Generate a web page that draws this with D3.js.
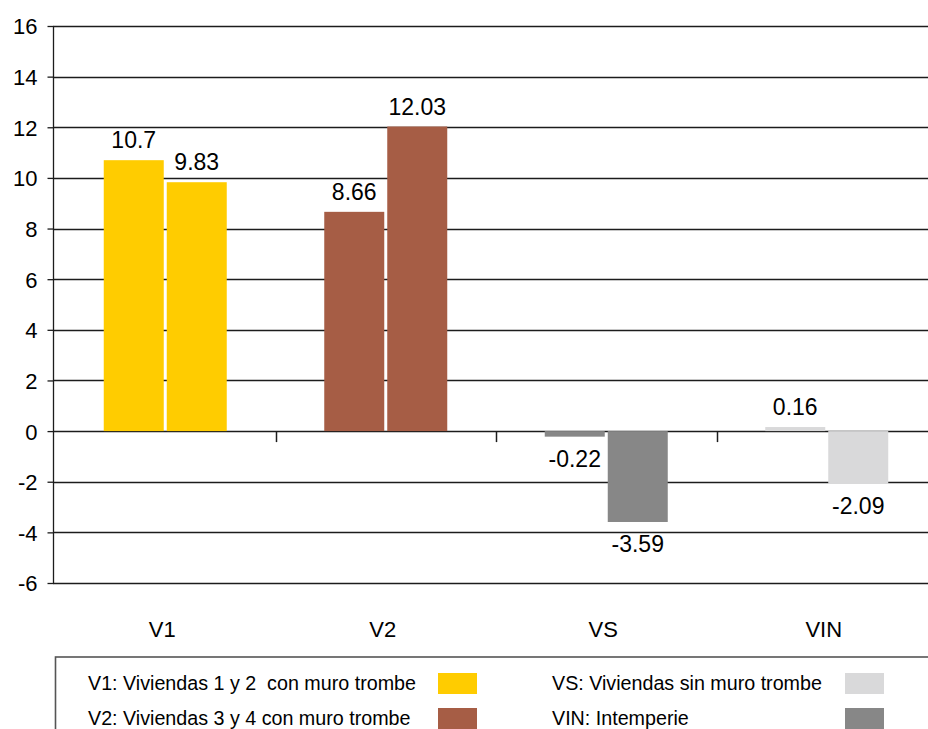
<!DOCTYPE html>
<html>
<head>
<meta charset="utf-8">
<script src="https://cdn.jsdelivr.net/npm/d3@7"></script>
<style>
  html, body { margin: 0; padding: 0; background: #fff; }
  svg { display: block; font-family: Arial, "Liberation Sans", sans-serif; }
  text { white-space: pre; }
</style>
</head>
<body>
<svg id="chart" width="928" height="729"></svg>
<script>
// Categories and the two measured values for each group
const categories = ["V1", "V2", "VS", "VIN"];
const firstValues = [10.7, 8.66, -0.22, 0.16];
const secondValues = [9.83, 12.03, -3.59, -2.09];
const yTicks = [-6, -4, -2, 0, 2, 4, 6, 8, 10, 12, 14, 16];

// Legend entries (text + swatch colour)
const legendLabels = [
  "V1: Viviendas 1 y 2  con muro trombe",
  "V2: Viviendas 3 y 4 con muro trombe",
  "VS: Viviendas sin muro trombe",
  "VIN: Intemperie"
];
const legendColors = ["#FFCC00", "#A65D45", "#D9D9DA", "#878787"];

// Bar fill for each category group
const barColors = ["#FFCC00", "#A65D45", "#878787", "#D9D9DA"];

const svg = d3.select("#chart");
const W = 928;
const axisX = 53;

const y = d3.scaleLinear().domain([-6, 16]).range([583, 26]);
const x = d3.scaleBand().domain(categories).range([55, 937]).padding(0);

const barW = 60, barGap = 3;
// plain hyphen-minus for negative numbers
const fmt = v => String(v);

// Horizontal gridlines
svg.append("g")
  .selectAll("line")
  .data(yTicks)
  .join("line")
  .attr("x1", axisX).attr("x2", W)
  .attr("y1", d => Math.round(y(d)) + 0.5)
  .attr("y2", d => Math.round(y(d)) + 0.5)
  .attr("stroke", "#1c1c1c")
  .attr("stroke-width", 1.3);

// Y axis with tick labels
const yAxis = svg.append("g")
  .attr("transform", `translate(${axisX + 0.5},0)`)
  .call(d3.axisLeft(y).tickValues(yTicks).tickSize(6).tickPadding(10).tickFormat(fmt));
yAxis.select(".domain").attr("stroke", "#1c1c1c").attr("stroke-width", 1.3)
  .attr("d", `M0,${y(16)}V${y(-6)}`);
yAxis.selectAll(".tick line").attr("stroke", "#1c1c1c").attr("stroke-width", 1.3);
yAxis.selectAll(".tick text")
  .attr("font-size", 22)
  .attr("fill", "#000")
  .attr("font-family", "Arial, 'Liberation Sans', sans-serif")
  .attr("dy", "0.36em");

// Bars
const rows = categories.map((c, i) => ({ cat: c, i, a: firstValues[i], b: secondValues[i] }));
const bars = [];
rows.forEach(r => {
  const cx = x(r.cat) + x.bandwidth() / 2;
  bars.push({ v: r.a, x: cx - barGap / 2 - barW, color: barColors[r.i] });
  bars.push({ v: r.b, x: cx + barGap / 2, color: barColors[r.i] });
});

svg.append("g")
  .selectAll("rect")
  .data(bars)
  .join("rect")
  .attr("x", d => d.x)
  .attr("width", barW)
  .attr("y", d => y(Math.max(0, d.v)))
  .attr("height", d => Math.abs(y(d.v) - y(0)))
  .attr("fill", d => d.color);

// Category tick marks on the zero line
svg.append("g")
  .selectAll("line")
  .data(categories.slice(1))
  .join("line")
  .attr("x1", d => Math.round(x(d)) + 0.5)
  .attr("x2", d => Math.round(x(d)) + 0.5)
  .attr("y1", y(0))
  .attr("y2", y(0) + 11)
  .attr("stroke", "#1c1c1c")
  .attr("stroke-width", 1.5);

// Value labels
svg.append("g")
  .selectAll("text")
  .data(bars)
  .join("text")
  .attr("x", d => d.x + barW / 2)
  .attr("y", d => d.v >= 0 ? y(d.v) - 12 : y(d.v) + 30)
  .attr("text-anchor", "middle")
  .attr("font-size", 23)
  .attr("fill", "#000")
  .text(d => fmt(d.v));

// Category labels
svg.append("g")
  .selectAll("text")
  .data(categories)
  .join("text")
  .attr("x", d => x(d) + x.bandwidth() / 2 - 3)
  .attr("y", 637)
  .attr("text-anchor", "middle")
  .attr("font-size", 22)
  .attr("fill", "#000")
  .text(d => d);

// Legend box
svg.append("rect")
  .attr("x", 55.5).attr("y", 657)
  .attr("width", 900).attr("height", 120)
  .attr("fill", "none")
  .attr("stroke", "#555")
  .attr("stroke-width", 1.6);

const legend = svg.append("g")
  .selectAll("g")
  .data(legendLabels.map((t, i) => ({ t, c: legendColors[i], col: Math.floor(i / 2), row: i % 2 })))
  .join("g")
  .attr("transform", d => `translate(${d.col === 0 ? 88 : 552},${d.row === 0 ? 690 : 725})`);

legend.append("text")
  .attr("font-size", 19.7)
  .attr("fill", "#000")
  .text(d => d.t);

legend.append("rect")
  .attr("x", d => d.col === 0 ? 350 : 293)
  .attr("y", -17)
  .attr("width", 39)
  .attr("height", 21)
  .attr("fill", d => d.c);
</script>
</body>
</html>
